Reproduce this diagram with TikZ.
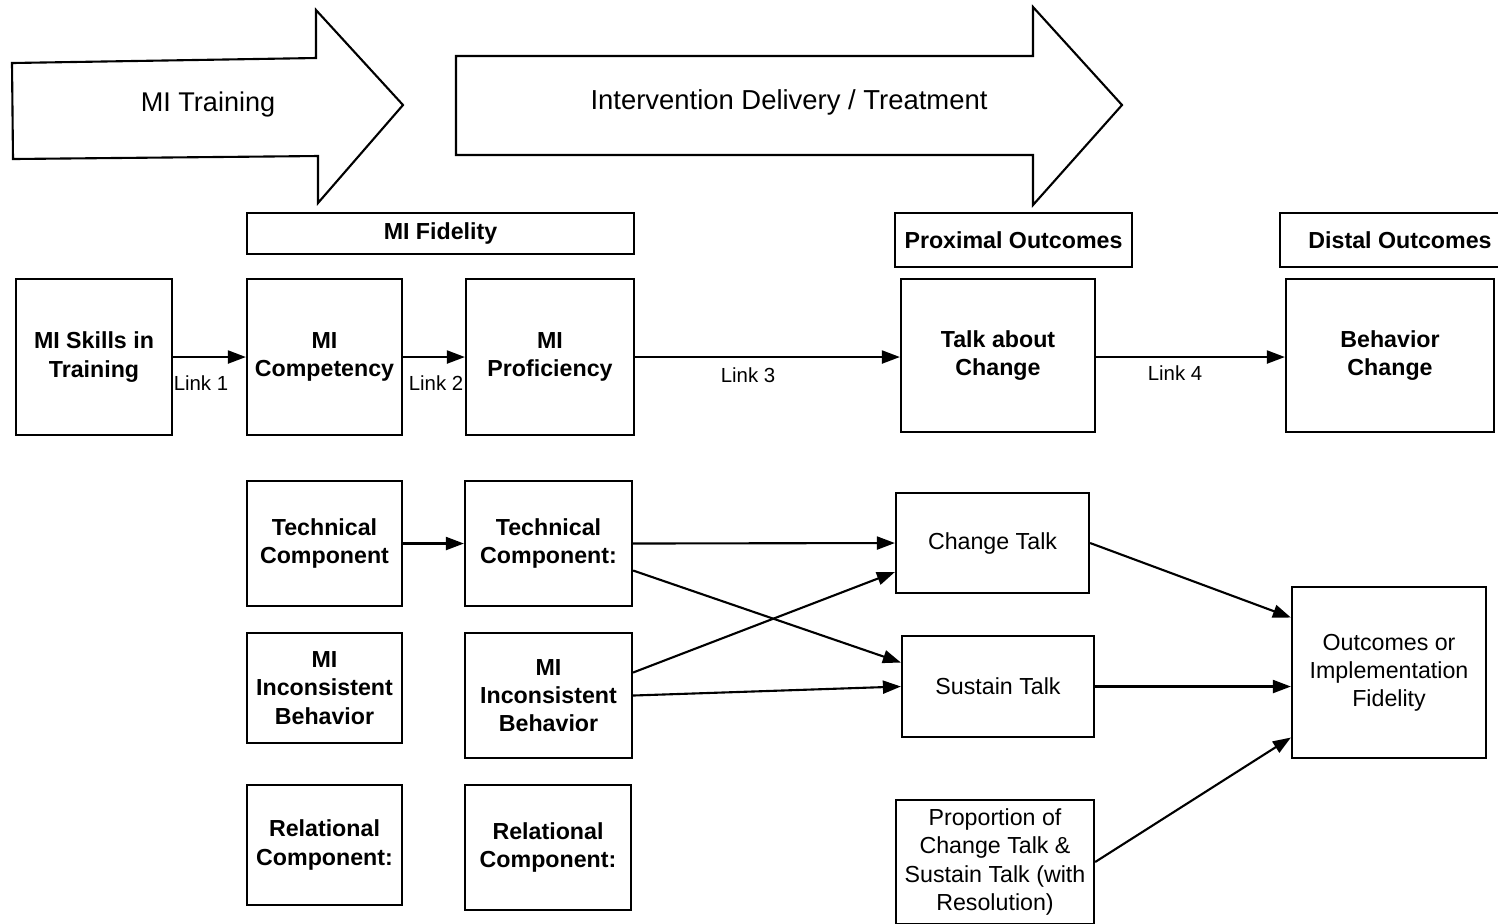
\documentclass[tikz,border=0pt]{standalone}
\usepackage{fontspec}
\setmainfont{Liberation Sans}
\usetikzlibrary{arrows.meta,calc}
\begin{document}
\begin{tikzpicture}[x=0.01cm,y=-0.01cm,line width=0.6pt,
  bbox/.style={draw,inner sep=0pt,align=center,font=\fontsize{6.6}{8}\selectfont\bfseries},
  pbox/.style={draw,inner sep=0pt,align=center,font=\fontsize{6.6}{8}\selectfont},
  link/.style={-{Triangle[length=1.8mm,width=1.3mm]}},
  linklbl/.style={font=\fontsize{5.8}{7}\selectfont}]
\clip (0,0) rectangle (1498,923);
\fill[white] (0,0) rectangle (1498,923);
% phase arrows
\draw (12,63) -- (316,58) -- (316,10) -- (403,105) -- (318,203) -- (318,156) -- (13,159) -- cycle;
\node[font=\fontsize{7.7}{9}\selectfont] (training) at (208,104) {MI Training};
\draw (456,56) -- (1033,56) -- (1033,7) -- (1122,105) -- (1033,205) -- (1033,155) -- (456,155) -- cycle;
\node[font=\fontsize{7.8}{9}\selectfont] (delivery) at (789,102) {Intervention Delivery / Treatment};
% headers
\node[bbox,minimum width=38.7mm,minimum height=4.1mm] (fid) at (440.5,233.5) {MI Fidelity};
\node[bbox,minimum width=23.7mm,minimum height=5.4mm] (prox) at (1013.5,240) {Proximal Outcomes};
\node[bbox,minimum width=24mm,minimum height=5.4mm] (distal) at (1400,240) {Distal Outcomes};
% top row
\node[bbox,minimum width=15.6mm,minimum height=15.6mm] (skills) at (94,357) {MI Skills in\\Training};
\node[bbox,minimum width=15.5mm,minimum height=15.6mm] (comp) at (324.5,357) {MI\\Competency};
\node[bbox,minimum width=16.8mm,minimum height=15.6mm] (prof) at (550,357) {MI\\Proficiency};
\node[bbox,minimum width=19.4mm,minimum height=15.3mm] (talk) at (998,355.5) {Talk about\\Change};
\node[bbox,minimum width=20.8mm,minimum height=15.3mm] (behav) at (1390,355.5) {Behavior\\Change};
\draw[link] (skills.east) -- (comp.west);
\draw[link] (comp.east) -- (prof.west);
\draw[link] (prof.east) -- (prof.east -| talk.west);
\draw[link] (talk.east |- prof.east) -- (behav.west |- prof.east);
\node[linklbl] (l1) at (201,383) {Link 1};
\node[linklbl] (l2) at (436,383) {Link 2};
\node[linklbl] (l3) at (748,375) {Link 3};
\node[linklbl] (l4) at (1175,373) {Link 4};
% components
\node[bbox,minimum width=15.5mm,minimum height=12.5mm] (techL) at (324.5,543.5) {Technical\\Component};
\node[bbox,minimum width=16.7mm,minimum height=12.5mm] (techR) at (548.5,543.5) {Technical\\Component:};
\node[bbox,minimum width=15.5mm,minimum height=11mm] (incL) at (324.5,688) {MI\\Inconsistent\\Behavior};
\node[bbox,minimum width=16.7mm,minimum height=12.5mm] (incR) at (548.5,695.5) {MI\\Inconsistent\\Behavior};
\node[bbox,minimum width=15.5mm,minimum height=12mm] (relL) at (324.5,845) {Relational\\Component:};
\node[bbox,minimum width=16.6mm,minimum height=12.5mm] (relR) at (548,847.5) {Relational\\Component:};
% talk
\node[pbox,minimum width=19.3mm,minimum height=10mm] (ct) at (992.5,543) {Change Talk};
\node[pbox,minimum width=19.2mm,minimum height=10.1mm] (st) at (998,686.5) {Sustain Talk};
\node[pbox,minimum width=19.8mm,minimum height=12.4mm] (prop) at (995,862) {Proportion of\\Change Talk \&\\Sustain Talk (with\\Resolution)};
\node[pbox,minimum width=19.4mm,minimum height=17.1mm] (outc) at (1389,672.5) {Outcomes or\\Implementation\\Fidelity};
\draw[link] (techL.east) -- (techR.west);
\draw[link] (techR.east) -- (ct.west);
\draw[link] ($(techR.east)+(0,27)$) -- ($(st.west)+(0,-24)$);
\draw[link] ($(incR.east)+(0,-23)$) -- ($(ct.west)+(0,29)$);
\draw[link] (incR.east) -- (st.west);
\draw[link] (ct.east) -- ($(outc.west)+(0,-55)$);
\draw[link] (st.east) -- (outc.west |- st.east);
\draw[link] (prop.east) -- ($(outc.west)+(0,65)$);
\end{tikzpicture}
\end{document}
